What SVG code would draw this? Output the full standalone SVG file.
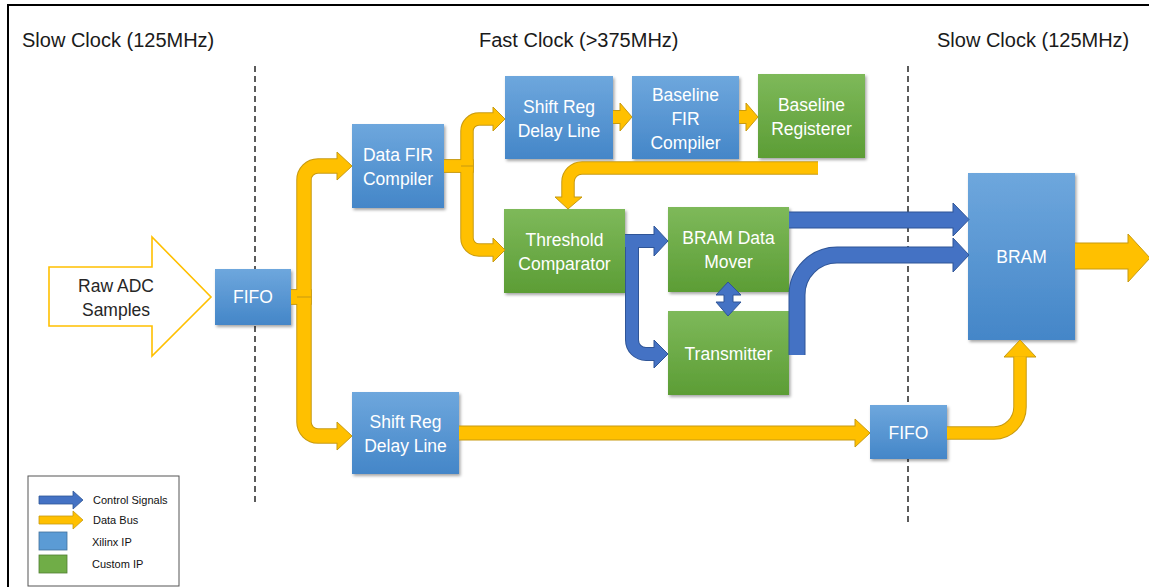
<svg xmlns="http://www.w3.org/2000/svg" width="1149" height="587" viewBox="0 0 1149 587">
<defs>
<linearGradient id="gb" x1="0" y1="0" x2="0" y2="1"><stop offset="0" stop-color="#6EA7DD"/><stop offset="1" stop-color="#4486C8"/></linearGradient>
<linearGradient id="gg" x1="0" y1="0" x2="0" y2="1"><stop offset="0" stop-color="#7EB95A"/><stop offset="1" stop-color="#5C9D35"/></linearGradient>
<filter id="sh" x="-10%" y="-10%" width="130%" height="130%"><feDropShadow dx="1.5" dy="2" stdDeviation="1.5" flood-color="#000" flood-opacity="0.35"/></filter>
</defs>
<style>
.title{font-family:"Liberation Sans",Arial,sans-serif;font-size:20px;fill:#1a1a1a}
.bt{font-family:"Liberation Sans",Arial,sans-serif;font-size:17.5px;fill:#fff;text-anchor:middle}
.blue{fill:url(#gb);filter:url(#sh)}
.green{fill:url(#gg);filter:url(#sh)}
.yo{fill:none;stroke:#C79A10;stroke-linecap:butt}
.yi{fill:none;stroke:#FFC000;stroke-linecap:butt}
.yh{fill:#FFC000;stroke:#C79A10;stroke-width:1;stroke-linejoin:miter}
.bo{fill:none;stroke:#2F5597;stroke-linecap:butt}
.bi{fill:none;stroke:#4472C4;stroke-linecap:butt}
.bh{fill:#4472C4;stroke:#2F5597;stroke-width:1}
.dash{stroke:#333;stroke-width:1.6;stroke-dasharray:6 4}
.lg{font-family:"Liberation Sans",Arial,sans-serif;font-size:11px;fill:#111}
</style>
<rect x="0" y="0" width="1149" height="587" fill="#fff"/>
<rect x="8" y="5" width="1160" height="600" fill="none" stroke="#000" stroke-width="2"/>

<text class="title" x="22" y="47">Slow Clock (125MHz)</text>
<text class="title" x="479" y="47">Fast Clock (&gt;375MHz)</text>
<text class="title" x="937" y="47">Slow Clock (125MHz)</text>

<line class="dash" x1="255" y1="66" x2="255" y2="502"/>
<line class="dash" x1="908" y1="66" x2="908" y2="524"/>

<g id="raw-adc">
<polygon points="49,267 152,267 152,237 211,297 152,356 152,326 49,326" fill="#fff" stroke="#FFC000" stroke-width="1.6"/>
<text x="116" y="292" font-family="Liberation Sans, Arial, sans-serif" font-size="17.5" fill="#262626" text-anchor="middle">Raw ADC</text>
<text x="116" y="316" font-family="Liberation Sans, Arial, sans-serif" font-size="17.5" fill="#262626" text-anchor="middle">Samples</text>
</g>

<g id="fifo-in"><rect class="blue" x="215" y="269" width="76" height="56"/><text class="bt" x="253" y="303">FIFO</text></g>
<g id="data-fir"><rect class="blue" x="352" y="124" width="92" height="84"/><text class="bt" x="398" y="161">Data FIR</text><text class="bt" x="398" y="185">Compiler</text></g>
<g id="shift-reg-top"><rect class="blue" x="505" y="76" width="108" height="83"/><text class="bt" x="559" y="113">Shift Reg</text><text class="bt" x="559" y="137">Delay Line</text></g>
<g id="baseline-fir"><rect class="blue" x="632" y="76" width="107" height="83"/><text class="bt" x="685.5" y="101">Baseline</text><text class="bt" x="685.5" y="125">FIR</text><text class="bt" x="685.5" y="149">Compiler</text></g>
<g id="baseline-reg"><rect class="green" x="758" y="74" width="107" height="84"/><text class="bt" x="811.5" y="111">Baseline</text><text class="bt" x="811.5" y="135">Registerer</text></g>
<g id="threshold"><rect class="green" x="504" y="209" width="121" height="84"/><text class="bt" x="564.5" y="246">Threshold</text><text class="bt" x="564.5" y="270">Comparator</text></g>
<g id="bram-mover"><rect class="green" x="668" y="207" width="121" height="85"/><text class="bt" x="728.5" y="244">BRAM Data</text><text class="bt" x="728.5" y="268">Mover</text></g>
<g id="transmitter"><rect class="green" x="668" y="311" width="121" height="84"/><text class="bt" x="728.5" y="360">Transmitter</text></g>
<g id="shift-reg-bottom"><rect class="blue" x="352" y="392" width="107" height="82"/><text class="bt" x="405.5" y="428">Shift Reg</text><text class="bt" x="405.5" y="452">Delay Line</text></g>
<g id="fifo-out"><rect class="blue" x="870" y="405" width="77" height="54"/><text class="bt" x="908.5" y="439">FIFO</text></g>
<g id="bram"><rect class="blue" x="968" y="173" width="107" height="167"/><text class="bt" x="1021.5" y="263">BRAM</text></g>

<g id="connectors">
<g>
<path class="yo" stroke-width="15.5" d="M291 297 H304 V180 A14 14 0 0 1 318 166 H338"/>
<path class="yo" stroke-width="15.5" d="M291 297 H304 V422 A14 14 0 0 0 318 436 H338"/>
<polygon class="yh" points="337,152 352,166 337,180"/>
<polygon class="yh" points="337,422 352,436 337,450"/>
<path class="yi" stroke-width="13.5" d="M291 297 H304 V180 A14 14 0 0 1 318 166 H338.5"/>
<path class="yi" stroke-width="13.5" d="M291 297 H304 V422 A14 14 0 0 0 318 436 H338.5"/>
<line x1="297" y1="297" x2="311" y2="297" stroke="#C79A10" stroke-width="1"/>

<path class="yo" stroke-width="13.5" d="M444 166 H467 V131 A12 12 0 0 1 479 119 H494"/>
<path class="yo" stroke-width="13.5" d="M444 166 H467 V238 A12 12 0 0 0 479 250 H494"/>
<polygon class="yh" points="493,107 505,119 493,131"/>
<polygon class="yh" points="493,238 505,250 493,262"/>
<path class="yi" stroke-width="11.5" d="M444 166 H467 V131 A12 12 0 0 1 479 119 H494.5"/>
<path class="yi" stroke-width="11.5" d="M444 166 H467 V238 A12 12 0 0 0 479 250 H494.5"/>
<line x1="461" y1="166" x2="473" y2="166" stroke="#C79A10" stroke-width="1"/>

<path class="yo" stroke-width="14" d="M613 117 H621"/>
<polygon class="yh" points="620,103 632,117 620,131"/>
<path class="yi" stroke-width="12" d="M613 117 H621.5"/>

<path class="yo" stroke-width="14" d="M739 117 H747"/>
<polygon class="yh" points="746,103 758,117 746,131"/>
<path class="yi" stroke-width="12" d="M739 117 H747.5"/>

<path class="yo" stroke-width="13.5" d="M818 168 H582 A14 14 0 0 0 568 182 V198"/>
<polygon class="yh" points="555,197 568,209 582,197"/>
<path class="yi" stroke-width="11.5" d="M818 168 H582 A14 14 0 0 0 568 182 V198.5"/>

<path class="yo" stroke-width="15" d="M459 433 H856"/>
<polygon class="yh" points="855,419 870,433 855,447"/>
<path class="yi" stroke-width="13" d="M459 433 H856.5"/>

<path class="yo" stroke-width="13.5" d="M947 433 H994 A26 26 0 0 0 1020 407 V357"/>
<polygon class="yh" points="1004,357 1020,340 1036,357"/>
<path class="yi" stroke-width="11.5" d="M947 433 H994 A26 26 0 0 0 1020 407 V356.5"/>

<path class="yo" stroke-width="27" d="M1075 256 H1129"/>
<polygon class="yh" points="1128,234 1150,258 1128,282"/>
<path class="yi" stroke-width="25" d="M1075 256 H1129.5"/>
</g>
<g>
<path class="bo" stroke-width="14" d="M625 241 H655"/>
<path class="bo" stroke-width="14" d="M625 241 H632 V340 A14 14 0 0 0 646 354 H655"/>
<polygon class="bh" points="654,226 668,241 654,256"/>
<polygon class="bh" points="654,340 668,354 654,368"/>
<path class="bi" stroke-width="12" d="M625 241 H655.5"/>
<path class="bi" stroke-width="12" d="M625 241 H632 V340 A14 14 0 0 0 646 354 H655.5"/>

<path class="bo" stroke-width="17" d="M789 220 H954"/>
<path class="bo" stroke-width="17" d="M797 355 V295 A40 40 0 0 1 837 255 H954"/>
<polygon class="bh" points="953,203 969,219.5 953,236"/>
<polygon class="bh" points="953,238 969,255 953,272"/>
<path class="bi" stroke-width="15" d="M789 220 H954.5"/>
<path class="bi" stroke-width="15" d="M797 355 V295 A40 40 0 0 1 837 255 H954.5"/>

<polygon class="bh" points="728,282 741,295 733,295 733,302 741,302 728,316 716,302 724,302 724,295 716,295"/>
</g>
</g>

<g id="legend">
<rect x="28" y="476" width="151" height="110" fill="#fff" stroke="#555" stroke-width="1"/>
<polygon points="39,496 73,496 73,491 83,500 73,509 73,504 39,504" fill="#4472C4" stroke="#2F5597" stroke-width="0.8"/>
<polygon points="39,516 73,516 73,511 83,520 73,529 73,524 39,524" fill="#FFC000" stroke="#C79A10" stroke-width="0.8"/>
<rect x="39" y="532" width="28" height="18" fill="#5B9BD5" stroke="#41719C" stroke-width="0.8"/>
<rect x="39" y="555" width="28" height="18" fill="#70AD47" stroke="#507E32" stroke-width="0.8"/>
<text class="lg" x="93" y="504">Control Signals</text>
<text class="lg" x="93" y="524">Data Bus</text>
<text class="lg" x="92" y="546">Xilinx IP</text>
<text class="lg" x="92" y="568">Custom IP</text>
</g>
</svg>
